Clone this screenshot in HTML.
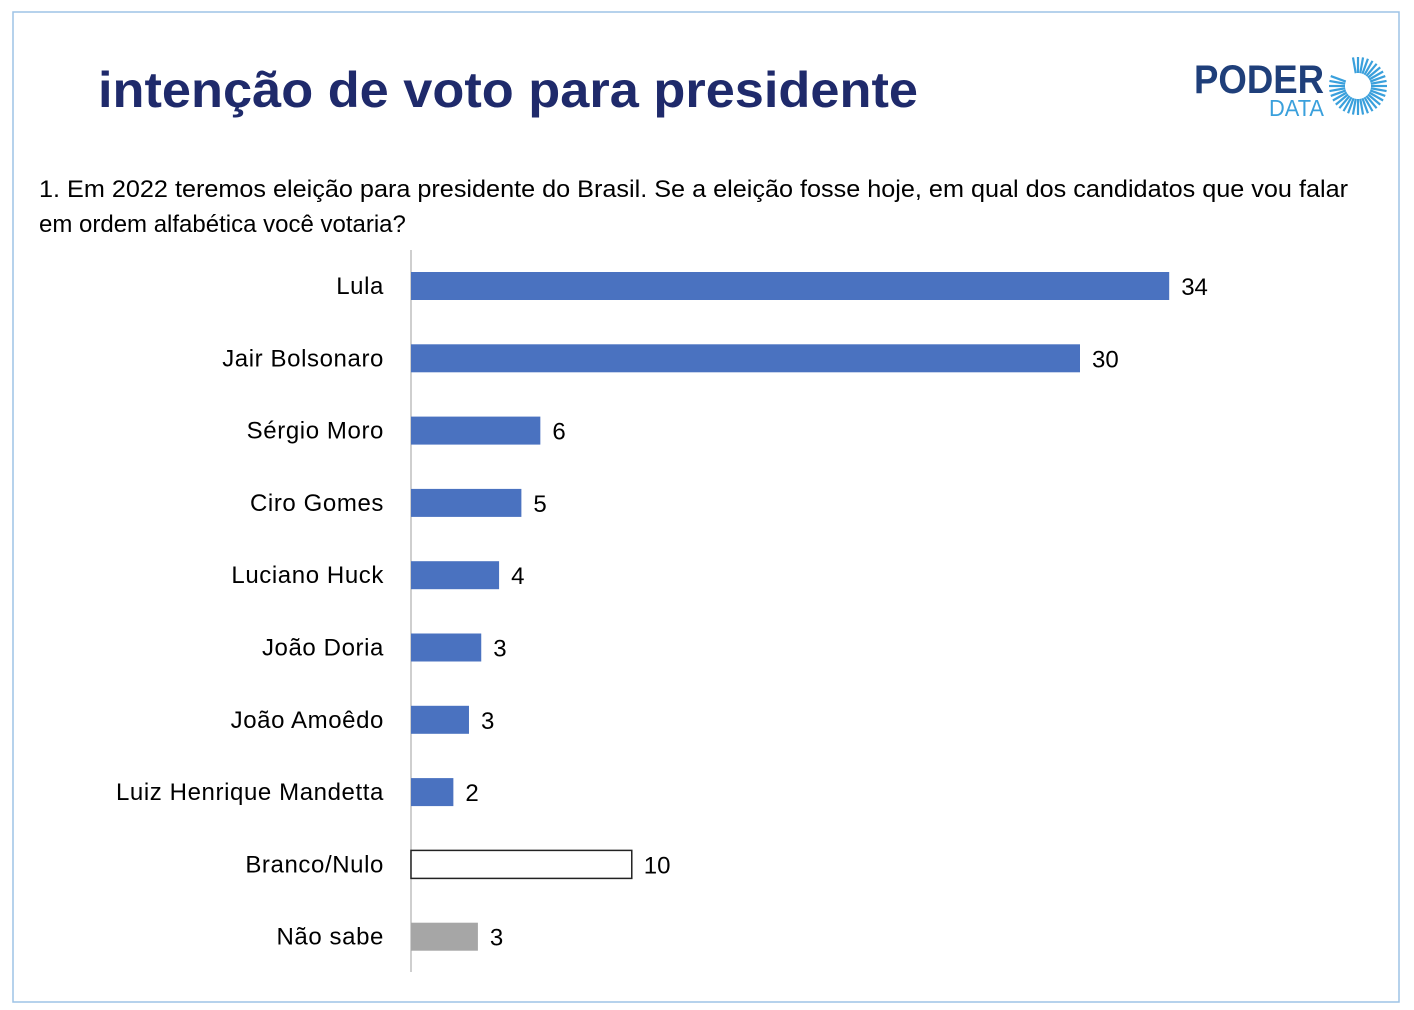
<!DOCTYPE html>
<html><head><meta charset="utf-8"><style>
html,body{margin:0;padding:0;background:#fff;}
svg{display:block;font-family:"Liberation Sans",sans-serif;}
</style></head><body>
<svg id="chart" width="1414" height="1010" viewBox="0 0 1414 1010">
<rect x="13" y="12" width="1386" height="990" fill="#fff" stroke="#9dc3e6" stroke-width="1.5"/>
<text x="98" y="107" font-size="50" font-weight="bold" fill="#1f2a6b" textLength="820" lengthAdjust="spacingAndGlyphs">intenção de voto para presidente</text>
<g>
<text x="1194" y="93" font-size="40" font-weight="bold" fill="#1f3f7a" textLength="130" lengthAdjust="spacingAndGlyphs">PODER</text>
<text x="1269" y="116" font-size="23" fill="#3aa0dc" textLength="55" lengthAdjust="spacingAndGlyphs">DATA</text>
<g id="sun" transform="translate(1358,86)"></g>
</g>
<text x="39" y="197" font-size="24" fill="#000" textLength="1309" lengthAdjust="spacingAndGlyphs">1. Em 2022 teremos eleição para presidente do Brasil. Se a eleição fosse hoje, em qual dos candidatos que vou falar</text>
<text x="39" y="232" font-size="24" fill="#000">em ordem alfabética você votaria?</text>
<line x1="411" y1="250" x2="411" y2="972" stroke="#bfbfbf" stroke-width="1.5"/>
<g id="bars"></g>
</svg>
<script>
const categories=["Lula","Jair Bolsonaro","Sérgio Moro","Ciro Gomes","Luciano Huck","João Doria","João Amoêdo","Luiz Henrique Mandetta","Branco/Nulo","Não sabe"];
const values=[34,30,5.8,4.95,3.95,3.15,2.6,1.9,9.9,3.0];
const valueLabels=["34","30","6","5","4","3","3","2","10","3"];
const barKinds=["c","c","c","c","c","c","c","c","blank","unknown"];
const NS="http://www.w3.org/2000/svg";
const x0=411, unit=22.3, y0=286, step=72.3, bh=28;
const xs=v=>x0+v*unit, ys=i=>y0+i*step;
const g=document.getElementById('bars');
categories.forEach((c,i)=>{
  const y=ys(i);
  const t=document.createElementNS(NS,'text');
  
  
  t.setAttribute('x',384);t.setAttribute('y',y+8);t.setAttribute('text-anchor','end');
  t.setAttribute('font-size','24');t.setAttribute('letter-spacing','0.6');t.textContent=c;g.appendChild(t);
  const r=document.createElementNS(NS,'rect');
  
  
  r.setAttribute('x',x0);r.setAttribute('y',y-bh/2);r.setAttribute('width',xs(values[i])-x0);r.setAttribute('height',bh);
  if(barKinds[i]==='blank'){r.setAttribute('fill','#fff');r.setAttribute('stroke','#222');r.setAttribute('stroke-width','1.5');}
  else if(barKinds[i]==='unknown'){r.setAttribute('fill','#a6a6a6');}
  else r.setAttribute('fill','#4a72c0');
  g.appendChild(r);
  const v=document.createElementNS(NS,'text');
  
  
  v.setAttribute('x',xs(values[i])+12);v.setAttribute('y',y+9);v.setAttribute('font-size','24');
  v.textContent=valueLabels[i];g.appendChild(v);
});
const sun=document.getElementById('sun');
for(let k=0;k<36;k++){
  const a=k*10*Math.PI/180;
  if(k>=21&&k<=25) continue;
  const l=document.createElementNS(NS,'line');
  l.setAttribute('x1',Math.cos(a)*13);l.setAttribute('y1',Math.sin(a)*13);
  l.setAttribute('x2',Math.cos(a)*29);l.setAttribute('y2',Math.sin(a)*29);
  l.setAttribute('stroke','#3aa0dc');l.setAttribute('stroke-width','2.2');
  sun.appendChild(l);
}
</script>
</body></html>
